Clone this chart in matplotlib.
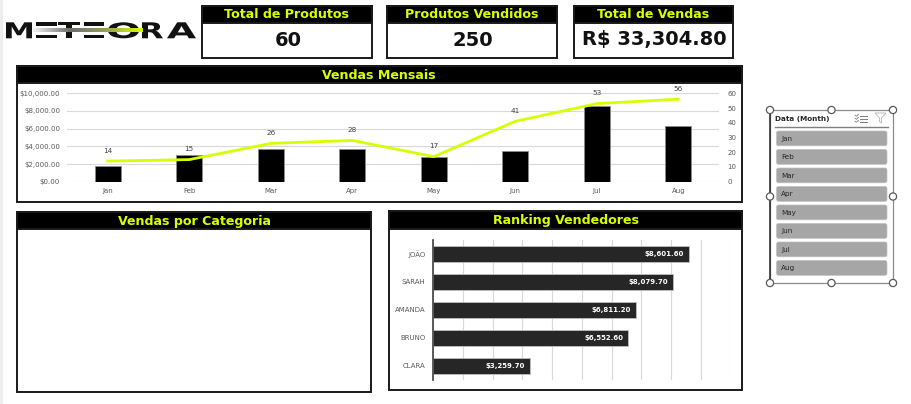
import numpy as np
import matplotlib.pyplot as plt
from matplotlib.patches import Rectangle, FancyBboxPatch, Circle, Polygon, PathPatch
from matplotlib.colors import LinearSegmentedColormap
from matplotlib.ticker import FuncFormatter
from matplotlib.textpath import TextPath
from matplotlib.font_manager import FontProperties
from matplotlib.transforms import Affine2D

W, H = 911, 404

months = ['Jan', 'Feb', 'Mar', 'Apr', 'May', 'Jun', 'Jul', 'Aug']
month_sales = [1720, 2980, 3680, 3680, 2800, 3520, 8600, 6325]
month_qty = [14, 15, 26, 28, 17, 41, 53, 56]

sellers = ['JOÃO', 'SARAH', 'AMANDA', 'BRUNO', 'CLARA']
seller_sales = [8601.60, 8079.70, 6811.20, 6552.60, 3259.70]

kpi_titles = ['Total de Produtos', 'Produtos Vendidos', 'Total de Vendas']
kpi_values = ['60', '250', 'R$ 33,304.80']

LIME = '#d8ff00'
GRID = '#d9d9d9'
TXT = '#595959'

plt.rcParams['font.family'] = 'DejaVu Sans'

fig = plt.figure(figsize=(W / 100, H / 100), dpi=100)
bg = fig.add_axes([0, 0, 1, 1])
bg.set_xlim(0, W)
bg.set_ylim(H, 0)
bg.axis('off')
bg.add_patch(Rectangle((0, 0), 3, H, fc='#eeeeee', ec='none'))


def px_axes(x0, y0, x1, y1):
    a = fig.add_axes([x0 / W, 1 - y1 / H, (x1 - x0) / W, (y1 - y0) / H])
    a.patch.set_visible(False)
    return a


def panel(x0, y0, x1, y1, hy, title, fs=9.1):
    bg.add_patch(Rectangle((x0, y0), x1 - x0, y1 - y0, fc='white', ec='#1a1a1a', lw=1.4))
    bg.add_patch(Rectangle((x0, y0), x1 - x0, hy - y0, fc='black', ec='#1a1a1a', lw=1.4))
    bg.text((x0 + x1) / 2, (y0 + hy) / 2 + 0.5, title, color=LIME, fontsize=fs,
            fontweight='bold', ha='center', va='center')


def letter(ch, x0, x1, y0, y1):
    # letter stretched to fill a pixel box (logo font is wider than DejaVu)
    tp = TextPath((0, 0), ch, size=1, prop=FontProperties(family='DejaVu Sans', weight='bold'))
    ext = tp.get_extents()
    tr = (Affine2D().translate(-ext.x0, -ext.y0)
          .scale((x1 - x0) / ext.width, -(y1 - y0) / ext.height)
          .translate(x0, y1))
    bg.add_patch(PathPatch(tr.transform_path(tp), fc='#111111', ec='none'))


# logo
logo_top, logo_bot = 22.3, 38.3
for ch, (lx0, lx1) in zip('MTORA', [(6, 32), (58, 80), (108, 139), (142, 163), (167, 196)]):
    letter(ch, lx0, lx1, logo_top, logo_bot)
for ex0, ex1 in [(36, 57), (84, 104)]:
    bg.add_patch(Rectangle((ex0, logo_top), ex1 - ex0, 3.4, fc='#111111', ec='none'))
    bg.add_patch(Rectangle((ex0, logo_bot - 3.4), ex1 - ex0, 3.4, fc='#111111', ec='none'))
grad = LinearSegmentedColormap.from_list('logo', ['#f2f2f2', '#6e6e6e', '#98a05a', '#d8ff00'])
bg.imshow(np.linspace(0, 1, 200).reshape(1, -1), cmap=grad, aspect='auto',
          extent=(33, 143, 32.2, 28.4), zorder=3)
bg.set_xlim(0, W)
bg.set_ylim(H, 0)

# KPI cards
kpi_boxes = [(202, 372), (387, 557), (574, 733)]
for (x0, x1), t, v in zip(kpi_boxes, kpi_titles, kpi_values):
    panel(x0, 5.7, x1, 58.3, 22.7, t)
    bg.text((x0 + x1) / 2 + 1, 40, v, fontsize=14, fontweight='bold', ha='center', va='center',
            color='#111111')

# Vendas Mensais
panel(16.7, 66, 741.7, 201.7, 83.3, 'Vendas Mensais')
ax = px_axes(67, 93.3, 719, 181.7)
x = np.arange(len(months))
ax.bar(x, month_sales, width=0.32, color='black', edgecolor='#8c8c8c', lw=0.6, zorder=2)
ax.set_xlim(-0.5, len(months) - 0.5)
ax.set_ylim(0, 10000)
ax.set_yticks(np.arange(0, 10001, 2000))
ax.yaxis.set_major_formatter(FuncFormatter(lambda v, p: '${:,.2f}'.format(v)))
ax.set_xticks(x)
ax.set_xticklabels(months)
ax.grid(axis='y', color=GRID, lw=0.8, zorder=0)
ax.set_axisbelow(True)
for s in ax.spines.values():
    s.set_visible(False)
ax.tick_params(length=0, labelsize=5, colors=TXT)
ax.tick_params(axis='y', pad=5)
ax.tick_params(axis='x', pad=4.5)

ax2 = ax.twinx()
ax2.patch.set_visible(False)
ax2.plot(x, month_qty, color=LIME, lw=2, zorder=3)
ax2.set_ylim(0, 60)
ax2.set_yticks(np.arange(0, 61, 10))
for s in ax2.spines.values():
    s.set_visible(False)
ax2.tick_params(length=0, labelsize=5, colors=TXT, pad=6)
for i, q in enumerate(month_qty):
    ax2.annotate(str(q), (i, q), xytext=(0, 7.5), textcoords='offset points',
                 ha='center', va='center', fontsize=5.2, color='#404040')

# Vendas por Categoria (empty)
panel(17.3, 211.7, 371, 391.7, 229.3, 'Vendas por Categoria')

# Ranking Vendedores
panel(389, 211, 742.3, 390, 229, 'Ranking Vendedores')
axr = px_axes(433.3, 240, 730.3, 380)
yy = np.arange(len(sellers))
axr.barh(yy, seller_sales, height=0.56, color='#262626', edgecolor='#bfbfbf', lw=0.6, zorder=2)
axr.set_xlim(0, 10000)
axr.set_ylim(len(sellers) - 0.5, -0.5)
axr.set_xticks(np.arange(0, 10001, 1000))
axr.set_xticklabels([])
axr.set_yticks(yy)
axr.set_yticklabels(sellers)
axr.grid(axis='x', color=GRID, lw=0.8, zorder=0)
axr.set_axisbelow(True)
for k, s in axr.spines.items():
    s.set_visible(k == 'left')
axr.spines['left'].set_color('#404040')
axr.spines['left'].set_linewidth(1.2)
axr.tick_params(length=0, labelsize=5, colors=TXT)
axr.tick_params(axis='y', pad=5.5)
for i, v in enumerate(seller_sales):
    axr.annotate('${:,.2f}'.format(v), (v, i), xytext=(-3.5, 0), textcoords='offset points',
                 ha='right', va='center', fontsize=5, fontweight='bold', color='white')

# slicer
sx0, sy0, sx1, sy1 = 770, 110, 893, 283
bg.add_patch(Rectangle((sx0, sy0), sx1 - sx0, sy1 - sy0, fc='white', ec='#8c8c8c', lw=0.9))
bg.plot([sx0, sx0], [sy0, sy1], color='#262626', lw=1.1)
bg.text(775, 119, 'Data (Month)', fontsize=5.2, fontweight='bold', color='#262626', va='center')
bg.plot([775, 888], [126.5, 126.5], color='#7f7f7f', lw=1)
for ly in [115.5, 118.5, 121.5]:
    bg.plot([860, 867], [ly, ly], color='#7f7f7f', lw=0.7)
    bg.plot([855, 856.5, 858.5], [ly - 0.3, ly + 0.8, ly - 1.2], color='#7f7f7f', lw=0.6)
bg.add_patch(Polygon([(875, 113), (886, 113), (881.5, 118), (881.5, 123), (879.5, 121.5), (879.5, 118)],
                     closed=True, fc='none', ec='#bfbfbf', lw=0.7))
for i, m in enumerate(months):
    by = 131 + i * 18.5
    bg.add_patch(FancyBboxPatch((776.5, by), 110.5, 14.8, boxstyle='round,pad=0,rounding_size=2',
                                fc='#a6a6a6', ec='#bfbfbf', lw=0.5))
    bg.text(781, by + 7.6, m, fontsize=5.2, color='#262626', va='center')
for hx, hy in [(sx0, sy0), ((sx0 + sx1) / 2, sy0), (sx1, sy0), (sx0, (sy0 + sy1) / 2),
               (sx1, (sy0 + sy1) / 2), (sx0, sy1), ((sx0 + sx1) / 2, sy1), (sx1, sy1)]:
    bg.add_patch(Circle((hx, hy), 3.6, fc='white', ec='#595959', lw=0.9, zorder=5))

fig.savefig('out.png', dpi=100)
